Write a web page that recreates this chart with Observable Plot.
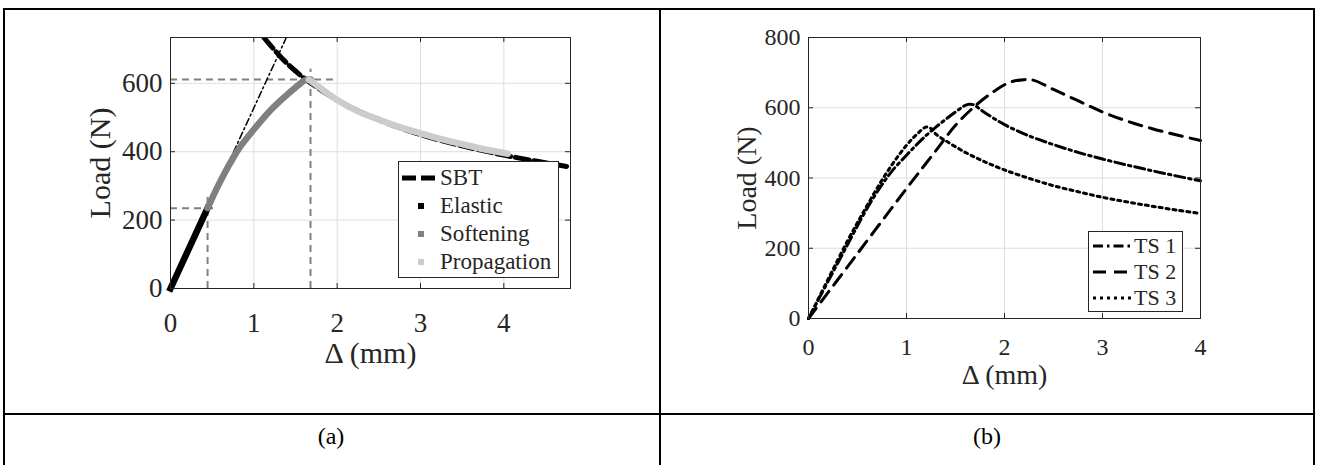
<!DOCTYPE html>
<html><head><meta charset="utf-8">
<script src="https://cdn.jsdelivr.net/npm/d3@7"></script>
<script src="https://cdn.jsdelivr.net/npm/@observablehq/plot@0.6"></script>
<style>
body{margin:0;background:#fff;}
#page{position:relative;width:1317px;height:465px;overflow:hidden;font-family:"Liberation Serif","Times New Roman",serif;color:#262626;background:#fff;}
.b{position:absolute;background:#000;}
.plot{position:absolute;top:0;}
.legend{position:absolute;background:#fff;border:1px solid #262626;box-sizing:border-box;}
.row{position:absolute;left:0;white-space:nowrap;}
.row svg{position:absolute;top:-10px;}
.row span{position:absolute;transform:translateY(-50%);top:0;}
.cap{position:absolute;font-size:24px;color:#000;transform:translate(-50%,-50%);white-space:nowrap;}
</style></head><body>
<div id="page">
  <div id="plotA" class="plot" style="left:0px"></div>
  <div id="plotB" class="plot" style="left:660px"></div>
  <div id="legA" class="legend" style="left:398px;top:161px;width:161px;height:117px;font-size:23px;"></div>
  <div id="legB" class="legend" style="left:1088px;top:231px;width:95px;height:81px;font-size:22px;"></div>
  <div class="b" style="left:3px;top:8px;width:1312px;height:2px"></div>
  <div class="b" style="left:3px;top:413px;width:1312px;height:2px"></div>
  <div class="b" style="left:3px;top:8px;width:2px;height:460px"></div>
  <div class="b" style="left:659px;top:8px;width:2px;height:460px"></div>
  <div class="b" style="left:1313px;top:8px;width:2px;height:460px"></div>
  <div class="cap" style="left:331px;top:436px">(a)</div>
  <div class="cap" style="left:987px;top:436px">(b)</div>
</div>
<script>
// ---------- Panel (a) data ----------
const aXTicks = [0, 1, 2, 3, 4];
const aYTicks = [0, 200, 400, 600];
const elasticX = [0, 0.445];
const elasticY = [0, 235];
const softeningX = [0.445, 0.55, 0.65, 0.75, 0.85, 1.0, 1.1, 1.2, 1.3, 1.4, 1.5, 1.56, 1.6, 1.64, 1.68];
const softeningY = [235, 290, 338, 381, 419, 465, 494, 521, 545, 567, 588, 600, 607, 611, 611];
const propagationX = [1.66, 1.8, 2.0, 2.25, 2.5, 2.75, 3.0, 3.25, 3.5, 3.75, 4.05];
const propagationY = [611, 586, 551, 518, 494, 472, 454, 437, 422, 408, 394];
const sbtX = [1.12, 1.2, 1.3, 1.4, 1.5, 1.62, 2.0, 2.5, 3.0, 3.5, 4.0, 4.4, 4.8];
const sbtY = [734, 711, 683, 658, 636, 612, 551, 493, 450, 417, 390, 372, 355];
const tangentX = [0, 1.39];
const tangentY = [0, 734];
const guideX = [0.445, 1.68];
const guideY = [235, 611];
const guideXEnd = [0.54, 1.96];
const guideYEnd = [266, 641];
const legendA = ["SBT", "Elastic", "Softening", "Propagation"];

// ---------- Panel (b) data ----------
const bXTicks = [0, 1, 2, 3, 4];
const bYTicks = [0, 200, 400, 600, 800];
const ts1X = [0, 0.2, 0.445, 0.55, 0.65, 0.75, 0.85, 1.0, 1.1, 1.2, 1.3, 1.4, 1.5, 1.56, 1.6, 1.64, 1.68, 1.8, 2.0, 2.25, 2.5, 2.75, 3.0, 3.25, 3.5, 3.75, 4.0];
const ts1Y = [0, 106, 235, 290, 338, 381, 419, 465, 494, 521, 545, 567, 588, 600, 607, 610, 609, 586, 552, 520, 495, 473, 454, 437, 421, 406, 392];
const ts2X = [0, 0.5, 1.0, 1.3, 1.5, 1.7, 1.9, 2.05, 2.2, 2.3, 2.5, 2.75, 3.0, 3.25, 3.5, 3.75, 4.0];
const ts2Y = [0, 185, 370, 478, 550, 605, 648, 672, 680, 678, 652, 620, 588, 562, 541, 523, 507];
const ts3X = [0, 0.2, 0.4, 0.55, 0.73, 0.87, 1.0, 1.1, 1.2, 1.25, 1.3, 1.4, 1.6, 1.8, 2.0, 2.25, 2.5, 2.75, 3.0, 3.25, 3.5, 3.75, 4.0];
const ts3Y = [0, 112, 222, 298, 385, 445, 493, 523, 545, 541, 525, 506, 473, 446, 423, 399, 378, 361, 345, 332, 320, 309, 299];
const legendB = ["TS 1", "TS 2", "TS 3"];

const ink = "#262626";
const gridColor = "#dedede";
const zip = (xs, ys) => xs.map((x, i) => ({x, y: ys[i]}));

function inwardTicks(xt, yt, fw, fh) {
  return [
    Plot.tickX(xt, {x: d => d, insetTop: fh - 5, stroke: ink}),
    Plot.tickX(xt, {x: d => d, insetBottom: fh - 5, stroke: ink}),
    Plot.tickY(yt, {y: d => d, insetRight: fw - 5, stroke: ink}),
    Plot.tickY(yt, {y: d => d, insetLeft: fw - 5, stroke: ink})
  ];
}

// ---------- Plot (a) ----------
const aW = 660, aH = 400, aML = 170, aMR = 90, aMT = 37, aMB = 112;
const guides = guideX.map((x, i) => ({x, y: guideY[i], xe: guideXEnd[i], ye: guideYEnd[i]}));
const plotA = Plot.plot({
  width: aW, height: aH,
  marginLeft: aML, marginRight: aMR, marginTop: aMT, marginBottom: aMB,
  x: {domain: [0, 4.8]},
  y: {domain: [0, 734]},
  style: {fontFamily: '"Liberation Serif", "Times New Roman", serif', fontSize: "27px", color: ink, background: "transparent", overflow: "visible"},
  marks: [
    Plot.ruleX(aXTicks, {x: d => d, stroke: gridColor}),
    Plot.ruleY(aYTicks, {y: d => d, stroke: gridColor}),
    Plot.axisX({ticks: aXTicks, tickSize: 0, tickPadding: 24, label: null, fontSize: 27, tickFormat: d => String(d)}),
    Plot.axisY({ticks: aYTicks, tickSize: 0, tickPadding: 8, label: null, fontSize: 27, tickFormat: d => String(d)}),
    ...inwardTicks(aXTicks, aYTicks, aW - aML - aMR, aH - aMT - aMB),
    Plot.ruleX(guides, {x: "x", y1: 0, y2: "ye", stroke: "#808080", strokeWidth: 2, strokeDasharray: "7,5"}),
    Plot.ruleY(guides, {y: "y", x1: 0, x2: "xe", stroke: "#808080", strokeWidth: 2, strokeDasharray: "7,5"}),
    Plot.line(zip(tangentX, tangentY), {x: "x", y: "y", stroke: "#000", strokeWidth: 1.5, strokeDasharray: "7,3,2,3", clip: true}),
    Plot.line(zip(sbtX, sbtY), {x: "x", y: "y", stroke: "#000", strokeWidth: 5, strokeDasharray: "14,5", clip: true, curve: "catmull-rom"}),
    Plot.line(zip(elasticX, elasticY), {x: "x", y: "y", stroke: "#000", strokeWidth: 6.5, strokeLinecap: "square"}),
    Plot.line(zip(softeningX, softeningY), {x: "x", y: "y", stroke: "#808080", strokeWidth: 6.5, curve: "catmull-rom"}),
    Plot.line(zip(propagationX, propagationY), {x: "x", y: "y", stroke: "#cccccc", strokeWidth: 6.5, curve: "catmull-rom"}),
    Plot.frame({stroke: ink}),
    Plot.text(["Δ (mm)"], {text: d => d, frameAnchor: "bottom", dy: 65, textAnchor: "middle", lineAnchor: "middle", fontSize: 30, fill: ink}),
    Plot.text(["Load (N)"], {text: d => d, frameAnchor: "left", dx: -70, rotate: -90, textAnchor: "middle", lineAnchor: "middle", fontSize: 30, fill: ink})
  ]
});
document.getElementById("plotA").appendChild(plotA);

// ---------- Plot (b) ----------
const bW = 655, bH = 400, bML = 148, bMR = 115, bMT = 37, bMB = 82;
const styleB = {
  "TS 1": {dash: "10,4,2.5,4"},
  "TS 2": {dash: "13,8"},
  "TS 3": {dash: "3,4"}
};
const plotB = Plot.plot({
  width: bW, height: bH,
  marginLeft: bML, marginRight: bMR, marginTop: bMT, marginBottom: bMB,
  x: {domain: [0, 4]},
  y: {domain: [0, 800]},
  style: {fontFamily: '"Liberation Serif", "Times New Roman", serif', fontSize: "24px", color: ink, background: "transparent", overflow: "visible"},
  marks: [
    Plot.ruleX(bXTicks, {x: d => d, stroke: gridColor}),
    Plot.ruleY(bYTicks, {y: d => d, stroke: gridColor}),
    Plot.axisX({ticks: bXTicks, tickSize: 0, tickPadding: 19, label: null, fontSize: 24, tickFormat: d => String(d)}),
    Plot.axisY({ticks: bYTicks, tickSize: 0, tickPadding: 8, label: null, fontSize: 24, tickFormat: d => String(d)}),
    ...inwardTicks(bXTicks, bYTicks, bW - bML - bMR, bH - bMT - bMB),
    Plot.line(zip(ts2X, ts2Y), {x: "x", y: "y", stroke: "#000", strokeWidth: 3, strokeDasharray: styleB["TS 2"].dash, curve: "catmull-rom"}),
    Plot.line(zip(ts1X, ts1Y), {x: "x", y: "y", stroke: "#000", strokeWidth: 3, strokeDasharray: styleB["TS 1"].dash, curve: "catmull-rom"}),
    Plot.line(zip(ts3X, ts3Y), {x: "x", y: "y", stroke: "#000", strokeWidth: 3, strokeDasharray: styleB["TS 3"].dash, curve: "catmull-rom"}),
    Plot.frame({stroke: ink}),
    Plot.text(["Δ (mm)"], {text: d => d, frameAnchor: "bottom", dy: 57, textAnchor: "middle", lineAnchor: "middle", fontSize: 28, fill: ink}),
    Plot.text(["Load (N)"], {text: d => d, frameAnchor: "left", dx: -61, rotate: -90, textAnchor: "middle", lineAnchor: "middle", fontSize: 28, fill: ink})
  ]
});
document.getElementById("plotB").appendChild(plotB);

// ---------- Legends ----------
const NS = "http://www.w3.org/2000/svg";
function sample(w, draw) {
  const svg = document.createElementNS(NS, "svg");
  svg.setAttribute("width", w); svg.setAttribute("height", 20);
  draw(svg);
  return svg;
}
function el(svg, tag, attrs) {
  const e = document.createElementNS(NS, tag);
  for (const k in attrs) e.setAttribute(k, attrs[k]);
  svg.appendChild(e);
}
const legA = document.getElementById("legA");
const aColors = {"Elastic": "#000", "Softening": "#808080", "Propagation": "#cccccc"};
legendA.forEach((name, i) => {
  const row = document.createElement("div");
  row.className = "row";
  row.style.top = (16 + i * 28) + "px";
  const s = sample(40, svg => {
    if (name === "SBT") el(svg, "line", {x1: 3, x2: 36, y1: 10, y2: 10, stroke: "#000", "stroke-width": 5, "stroke-dasharray": "14,5"});
    else el(svg, "rect", {x: 19, y: 7, width: 6, height: 6, fill: aColors[name]});
  });
  s.style.left = "0px";
  row.appendChild(s);
  const t = document.createElement("span");
  t.textContent = name; t.style.left = "41px";
  row.appendChild(t);
  legA.appendChild(row);
});
const legB = document.getElementById("legB");
legendB.forEach((name, i) => {
  const row = document.createElement("div");
  row.className = "row";
  row.style.top = (14 + i * 26) + "px";
  const s = sample(46, svg => {
    el(svg, "line", {x1: 4, x2: 43, y1: 10, y2: 10, stroke: "#000", "stroke-width": 3, "stroke-dasharray": styleB[name].dash});
  });
  s.style.left = "0px";
  row.appendChild(s);
  const t = document.createElement("span");
  t.textContent = name; t.style.left = "45px";
  row.appendChild(t);
  legB.appendChild(row);
});
</script>
</body></html>
